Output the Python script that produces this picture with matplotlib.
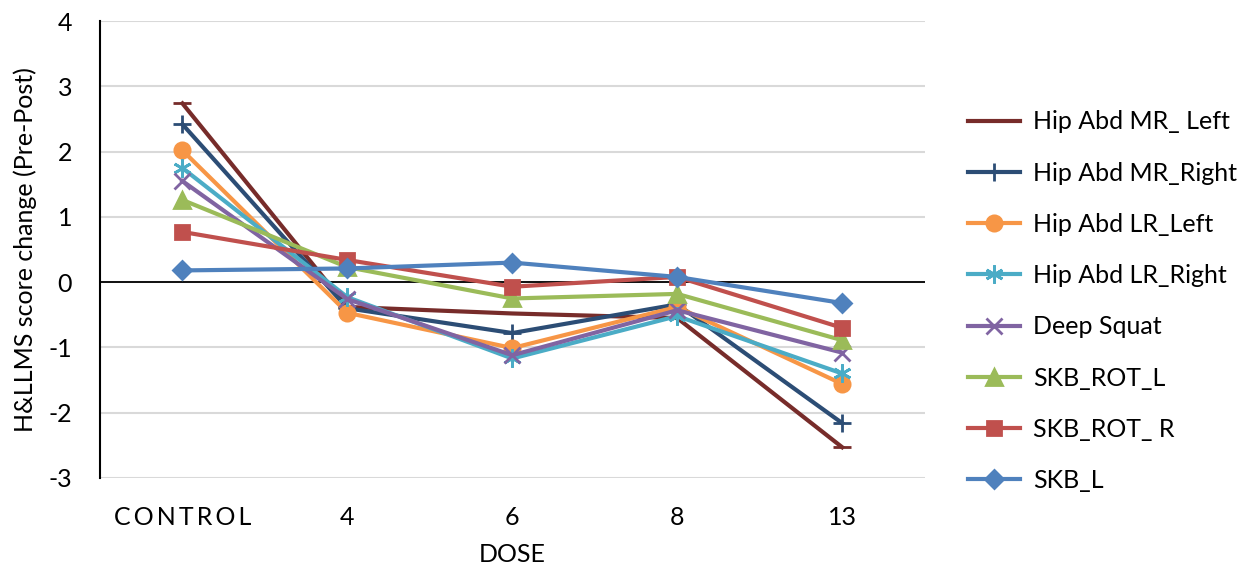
import numpy as np
import matplotlib
matplotlib.use("Agg")
import matplotlib.pyplot as plt

plt.rcParams['font.family'] = ['Lato', 'DejaVu Sans']
plt.rcParams['axes.unicode_minus'] = False

# Dose groups on the x axis
doses = ["C\u2009O\u2009N\u2009T\u2009R\u2009O\u2009L", "4", "6", "8", "13"]

# Mean change in score (Pre-Post) for each test
hip_abd_mr_left = [2.74, -0.38, -0.48, -0.55, -2.53]
hip_abd_mr_right = [2.42, -0.40, -0.78, -0.34, -2.16]
hip_abd_lr_left = [2.02, -0.47, -1.01, -0.38, -1.56]
hip_abd_lr_right = [1.75, -0.23, -1.17, -0.52, -1.40]
deep_squat = [1.55, -0.26, -1.12, -0.43, -1.08]
skb_rot_l = [1.26, 0.23, -0.25, -0.18, -0.89]
skb_rot_r = [0.77, 0.34, -0.07, 0.08, -0.70]
skb_l = [0.18, 0.21, 0.30, 0.08, -0.32]

series = [
    ("Hip Abd MR_ Left", hip_abd_mr_left, "#772C2A", "_", 13),
    ("Hip Abd MR_Right", hip_abd_mr_right, "#2C4D75", "+", 13),
    ("Hip Abd LR_Left", hip_abd_lr_left, "#F79646", "o", 11),
    ("Hip Abd LR_Right", hip_abd_lr_right, "#4BACC6", (6, 2, 0), 13),
    ("Deep Squat", deep_squat, "#8064A2", "x", 11),
    ("SKB_ROT_L", skb_rot_l, "#9BBB59", "^", 11),
    ("SKB_ROT_ R", skb_rot_r, "#C0504D", "s", 10),
    ("SKB_L", skb_l, "#4F81BD", "D", 9),
]

fig = plt.figure(figsize=(12.59, 5.73), dpi=100)
ax = fig.add_axes([0.0794, 0.166, 0.655, 0.797])

x = np.arange(len(doses))
for name, vals, col, mk, ms in series:
    ax.plot(x, vals, color=col, lw=3, marker=mk, markersize=ms,
            markeredgewidth=2, label=name, clip_on=False, zorder=3)

ax.set_xlim(-0.5, len(doses) - 0.5)
ax.set_ylim(-3, 4)
ax.set_yticks(range(-3, 5))
ax.grid(axis="y", color="#D9D9D9", lw=1.5, zorder=0)
ax.axhline(0, color="black", lw=1.3, zorder=2)

for s in ["top", "right", "bottom"]:
    ax.spines[s].set_visible(False)
ax.spines["left"].set_linewidth(1.5)

ax.set_xticks(x)
ax.set_xticklabels(doses)
ax.tick_params(axis="both", length=0, labelsize=18)
ax.tick_params(axis="x", pad=20)
ax.tick_params(axis="y", pad=20)

ax.set_xlabel("DOSE", fontsize=18, labelpad=10)
ax.set_ylabel("H&LLMS score change (Pre-Post)", fontsize=18, labelpad=8)

ax.legend(loc="center left", bbox_to_anchor=(1.025, 0.387), frameon=False,
          fontsize=18, labelspacing=1.13, handlelength=2.1, handletextpad=0.5)

fig.savefig("out.png", dpi=100)
